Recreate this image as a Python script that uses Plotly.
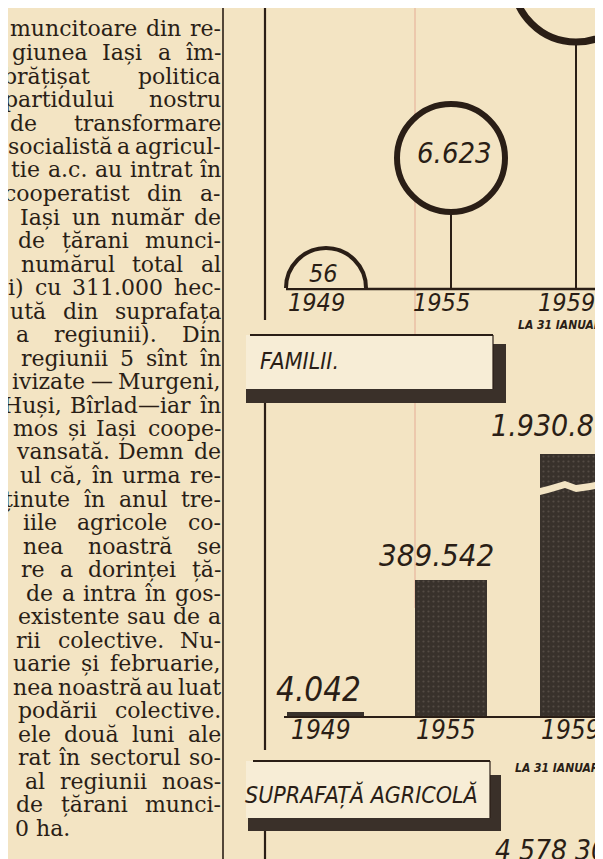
import plotly.graph_objects as go

# ---------------- data ----------------
years = ["1949", "1955", "1959"]
year_note = "LA 31 IANUARIE"
circle_labels = ["56", "6.623", ""]          # 1959 value is cut off in the clipping
family_values = [4042, 389542, 1930800]
family_labels = ["4.042", "389.542", "1.930.800"]
chart_titles = ["FAMILII.", "SUPRAFAȚĂ AGRICOLĂ"]
area_label = "4 578 300"

column_lines = [
    "muncitoare din re-",
    "giunea Iași a îm-",
    "brățișat politica",
    "partidului nostru",
    "de transformare",
    "socialistă a agricul-",
    "tie a.c. au intrat în",
    "cooperatist din a-",
    "Iași un număr de",
    "de țărani munci-",
    "numărul total al",
    "i) cu 311.000 hec-",
    "ută din suprafața",
    "a regiunii). Din",
    "regiunii 5 sînt în",
    "ivizate — Murgeni,",
    "Huși, Bîrlad—iar în",
    "mos și Iași coope-",
    "vansată. Demn de",
    "ul că, în urma re-",
    "ținute în anul tre-",
    "iile agricole co-",
    "nea noastră se",
    "re a dorinței ță-",
    "de a intra în gos-",
    "existente sau de a",
    "rii colective. Nu-",
    "uarie și februarie,",
    "nea noastră au luat",
    "podării colective.",
    "ele două luni ale",
    "rat în sectorul so-",
    "al regiunii noas-",
    "de țărani munci-",
    "0 ha.",
]

# ---------------- style ----------------
W, H = 603, 859
BG = "#f3e4c3"
INK = "#2a1e16"
BAR = "#38312b"
BOX = "#f7edd6"
SHADOW = "#3a3029"
HAND = "Liberation Sans Narrow, DejaVu Sans Condensed, Arial Narrow, sans-serif"
SERIF = "DejaVu Serif, serif"
COL_SIZE = 22
# left edge of each (cropped, justified) line of the newspaper column, px
line_starts = [2, 4, -5, -4, 2, 0, 3, -4, 12, 10, 13, 0, 2, 8, 13, 4, -5, 5, 8, 12,
               -4, 15, 15, 13, 18, 10, 8, 5, 5, 10, 10, 10, 17, 8, 7]
RIGHT = 213

circle_diam = [80, 108, 126]
circle_lw = [4, 6, 7]
stem_heights = [0, 130, 309]     # layout: height of each circle above its base line (px units)

# approximate DejaVu Serif advance widths (em)
CW = dict(a=.596, b=.640, c=.560, d=.640, e=.592, f=.370, g=.640, h=.644, i=.320, j=.310,
          k=.606, l=.320, m=.948, n=.644, o=.602, p=.640, q=.640, r=.478, s=.513, t=.402,
          u=.644, v=.565, w=.856, x=.564, y=.565, z=.523)
CW.update({"ă": .596, "â": .596, "î": .320, "ș": .513, "ț": .402, "I": .45, "H": .87,
           "B": .73, "M": .99, "N": .84, "D": .83, ".": .318, ",": .318, "-": .338,
           ")": .390, "(": .390, "—": 1.0})


def word_w(wd):
    return sum(CW.get(ch, .636) for ch in wd) * COL_SIZE


def X(px):
    return px / W


def Y(py):
    return 1 - py / H


fig = go.Figure()

# stems of the circle chart
sx, sy = [], []
for i, h in enumerate(stem_heights):
    if h > 0:
        sx += [i, i, None]
        sy += [h, 0, None]
fig.add_trace(go.Scatter(x=sx, y=sy, mode="lines", line=dict(color=INK, width=2),
                         hoverinfo="skip", xaxis="x", yaxis="y", showlegend=False))
# circles
fig.add_trace(go.Scatter(
    x=list(range(len(years))), y=stem_heights, mode="markers",
    marker=dict(size=circle_diam, color=BG, opacity=1,
                line=dict(color=INK, width=circle_lw)),
    cliponaxis=True, hoverinfo="skip", xaxis="x", yaxis="y", showlegend=False))

# bars (families)
fig.add_trace(go.Bar(
    x=list(range(len(years))), y=family_values, width=0.57,
    marker=dict(color=BAR, line=dict(color=BAR, width=[5, 0, 0]),
                pattern=dict(shape=".", fgcolor="#6d655c", bgcolor=BAR, size=5, solidity=0.15)),
    hoverinfo="skip", xaxis="x2", yaxis="y2", showlegend=False))

xr = [(243 - 318) / 125, (603 - 318) / 125]
ax_common = dict(visible=False, fixedrange=True)
fig.update_layout(
    width=W, height=H, margin=dict(l=0, r=0, t=0, b=0),
    paper_bgcolor=BG, plot_bgcolor="rgba(0,0,0,0)",
    xaxis=dict(domain=[X(243), 1], range=xr, **ax_common),
    yaxis=dict(domain=[Y(280), 1], range=[0, 280], **ax_common),
    xaxis2=dict(domain=[X(243), 1], range=xr, anchor="y2", **ax_common),
    yaxis2=dict(domain=[Y(708), Y(446)], range=[0, 750000], anchor="x2", **ax_common),
    bargap=0,
)

shapes = []


def line(x0, y0, x1, y1, w=2, c=INK):
    shapes.append(dict(type="line", xref="paper", yref="paper", x0=X(x0), y0=Y(y0),
                       x1=X(x1), y1=Y(y1), line=dict(color=c, width=w), layer="below"))


def rect(x0, y0, x1, y1, fill, w=0, c=INK, layer="below"):
    shapes.append(dict(type="rect", xref="paper", yref="paper", x0=X(x0), y0=Y(y0),
                       x1=X(x1), y1=Y(y1), fillcolor=fill,
                       line=dict(color=c, width=w), layer=layer))


# faint red fold line of the paper
line(407, 0, 407, 600, 1.5, "rgba(215,120,110,0.35)")
# column rule
line(215, 0, 215, H, 1.6)
# chart frame (left)
line(257, 0, 257, 312, 2.2)
line(257, 382, 257, 742, 2.2)
line(257, 812, 257, H, 2.2)
# base lines
line(278, 281, 603, 281, 2.5)
line(276, 709, 603, 709, 2.2)
# FAMILII box
rect(238, 336, 498, 395, SHADOW)
rect(238, 327, 485, 381, BOX)
line(242, 327, 485, 327, 1.8)
line(485, 327, 485, 381, 1.2)
# SUPRAFATA box
rect(240, 767, 493, 823, SHADOW)
rect(238, 753, 482, 810, BOX)
line(245, 753, 482, 753, 1.8)
line(482, 753, 482, 810, 1.2)
# scale break on the tall bar
top = [(524, 482), (540, 478), (557, 473), (568, 477), (582, 475), (605, 470)]
bot = [(605, 477), (582, 482), (568, 484), (557, 480), (540, 485), (524, 489)]
pts = top + bot
path = "M " + " L ".join(f"{X(a):.5f},{Y(b):.5f}" for a, b in pts) + " Z"
shapes.append(dict(type="path", xref="paper", yref="paper", path=path,
                   fillcolor=BG, line=dict(width=0), layer="above"))
fig.update_layout(shapes=shapes)

ann = []


def text(t, x, y, size, xanchor="center", font=HAND, color=INK, xref="paper", xshift=0):
    ann.append(dict(text=t, x=x if xref != "paper" else X(x), y=Y(y), xref=xref, yref="paper",
                    xanchor=xanchor, yanchor="middle", showarrow=False, xshift=xshift,
                    borderpad=0, borderwidth=0,
                    font=dict(family=font, size=size, color=color)))


# left newspaper column, justified word by word
for k, s in enumerate(column_lines):
    yy = 21 + k * 23.5
    x0 = line_starts[k]
    if k == len(column_lines) - 1:
        text(s, x0, yy, COL_SIZE, "left", SERIF)
        continue
    words = s.split(" ")
    widths = [word_w(wd) for wd in words]
    gap = (RIGHT - x0 - sum(widths)) / max(len(words) - 1, 1)
    cx = x0
    for j, wd in enumerate(words):
        if j == len(words) - 1 and len(words) > 1:
            text(wd, RIGHT, yy, COL_SIZE, "right", SERIF)
        else:
            text(wd, cx, yy, COL_SIZE, "left", SERIF)
        cx += widths[j] + gap

# circle chart labels
text(f"<i>{circle_labels[0]}</i>", 316, 266, 25)
text(f"<i>{circle_labels[1]}</i>", 446, 145, 29)
for i, yv in enumerate(years):
    text(f"<i>{yv}</i>", i, 294, 25, xref="x", xshift=-10)
    text(f"<i>{yv}</i>", i, 722, 26, xref="x2", xshift=-5)
text(f"<b><i>{year_note}</i></b>", 510, 317, 12, "left")
text(f"<b><i>{year_note}</i></b>", 507, 760, 12, "left")

# chart titles
text(f"<i>{chart_titles[0]}</i>", 252, 353, 23, "left")
text(f"<i>{chart_titles[1]}</i>", 470, 787, 23, "right")

# bar value labels
text(f"<i>{family_labels[0]}</i>", 0, 681, 33, xref="x2", xshift=-8)
text(f"<i>{family_labels[1]}</i>", 1, 547, 31, xref="x2", xshift=-15)
text(f"<i>{family_labels[2]}</i>", 483, 417, 30, "left")
text(f"<i>{area_label}</i>", 487, 842, 28, "left")

fig.update_layout(annotations=ann)
fig.write_html("out.html")
